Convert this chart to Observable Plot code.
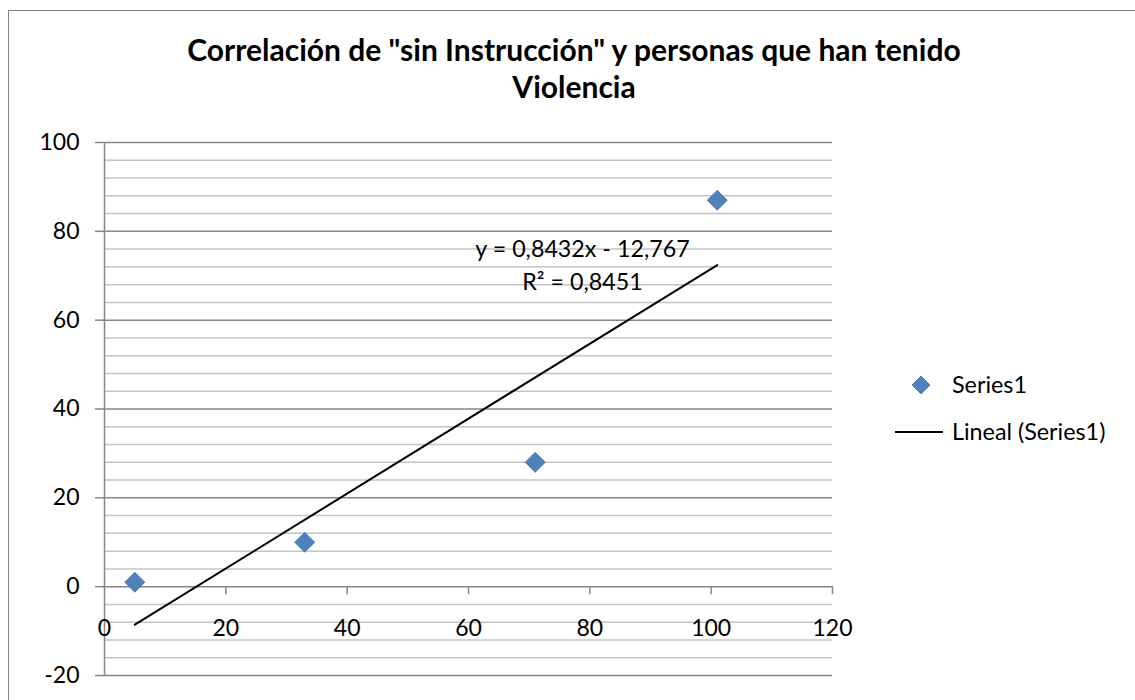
<!DOCTYPE html>
<html><head><meta charset="utf-8">
<script src="https://cdn.jsdelivr.net/npm/d3@7"></script>
<script src="https://cdn.jsdelivr.net/npm/@observablehq/plot@0.6"></script>
<style>
body{margin:0;background:#fff;}
#wrap{position:relative;width:1135px;height:700px;overflow:hidden;font-family:Lato,sans-serif;background:#fff;}
#frame{position:absolute;left:8px;top:10px;width:1130px;height:720px;border:1px solid #868686;box-sizing:border-box;}
#plot{position:absolute;left:0;top:0;}
#over{position:absolute;left:0;top:0;pointer-events:none;}
</style></head>
<body><div id="wrap"><div id="frame"></div><div id="plot"></div><svg id="over" width="1135" height="700"></svg></div>
<script>
// ---- data ----
const xValues = [5, 33, 71, 101];
const yValues = [1, 10, 28, 87];
const xTicks = [0, 20, 40, 60, 80, 100, 120];
const yTicks = [-20, 0, 20, 40, 60, 80, 100];
const yMinorStep = 4;
const titleLines = ['Correlación de "sin Instrucción" y personas que han tenido', 'Violencia'];
const equationLines = ['y = 0,8432x - 12,767', 'R² = 0,8451'];
const legendLabels = ['Series1', 'Lineal (Series1)'];

const data = xValues.map((x, i) => ({x, y: yValues[i]}));
const yMinor = d3.range(yTicks[0], yTicks[yTicks.length - 1] + 0.001, yMinorStep).filter(v => !yTicks.includes(v));

const W = 1135, H = 700, mL = 104, mR = 303, mT = 142, mB = 25;
const yPerPx = (yTicks[yTicks.length - 1] - yTicks[0]) / (H - mT - mB);
const tickLen = 8;
const blue = "#4F81BD", blueEdge = "#3F6FA8", major = "#868686", minor = "#c4c4c4";

const chart = Plot.plot({
  width: W, height: H,
  marginLeft: mL, marginRight: mR, marginTop: mT, marginBottom: mB,
  x: {domain: [xTicks[0], xTicks[xTicks.length - 1]], axis: null},
  y: {domain: [yTicks[0], yTicks[yTicks.length - 1]]},
  style: {fontFamily: "Lato, sans-serif", fontSize: "23px", background: "transparent", color: "#000"},
  marks: [
    Plot.ruleY(yMinor, {stroke: minor, strokeWidth: 1.5}),
    Plot.ruleY(yTicks, {stroke: major, strokeWidth: 1.5}),
    Plot.ruleX([0], {stroke: major, strokeWidth: 1.5}),
    Plot.axisY(yTicks, {tickSize: 9, tickPadding: 16, stroke: major, strokeWidth: 1.5, fill: "#000", fontSize: 23, label: null, tickFormat: d => String(d)}),
    Plot.ruleX(xTicks.slice(1), {x: d => d, y1: 0, y2: -tickLen * yPerPx, stroke: major, strokeWidth: 1.5}),
    Plot.text(xTicks, {x: d => d, y: 0, dy: 42, text: d => String(d), fill: "#000", fontSize: 23}),
    Plot.linearRegressionY(data, {x: "x", y: "y", ci: 0, stroke: "#000", strokeWidth: 2}),
    Plot.dot(data, {x: "x", y: "y", symbol: "diamond2", r: 9, fill: blue, stroke: blueEdge, strokeWidth: 0.8})
  ]
});
document.getElementById("plot").appendChild(chart);

// ---- text fitting helper ----
const cv = document.createElement("canvas").getContext("2d");
function fit(text, weight, targetW) {
  cv.font = `${weight} 100px Lato`;
  return 100 * targetW / cv.measureText(text).width;
}

const over = d3.select("#over");
// title
const tSize = fit(titleLines[0], "bold", 775);
over.selectAll("text.title").data(titleLines).join("text")
  .attr("x", 574).attr("y", (d, i) => [60.5, 98.3][i])
  .attr("text-anchor", "middle").attr("font-family", "Lato").attr("font-weight", "bold")
  .attr("font-size", tSize).attr("fill", "#000").text(d => d);

// equation
const eSize = fit(equationLines[0], "normal", 215);
over.selectAll("text.eq").data(equationLines).join("text")
  .attr("x", 582.5).attr("y", (d, i) => [256.7, 290][i])
  .attr("text-anchor", "middle").attr("font-family", "Lato")
  .attr("font-size", eSize).attr("fill", "#000").text(d => d);

// legend
const lSize = fit(legendLabels[0], "normal", 75);
const lg = over.append("g");
lg.append("path").attr("d", d3.symbol(d3.symbolDiamond2, Math.pow(9 / 0.62625, 2))())
  .attr("transform", "translate(921,385)").attr("fill", blue).attr("stroke", blueEdge).attr("stroke-width", 0.8);
lg.append("line").attr("x1", 895).attr("x2", 943).attr("y1", 432).attr("y2", 432).attr("stroke", "#000").attr("stroke-width", 2);
lg.selectAll("text").data(legendLabels).join("text")
  .attr("x", 952).attr("y", (d, i) => [385, 432][i]).attr("dy", "0.36em")
  .attr("font-family", "Lato").attr("font-size", lSize).attr("fill", "#000").text(d => d);
</script></body></html>
